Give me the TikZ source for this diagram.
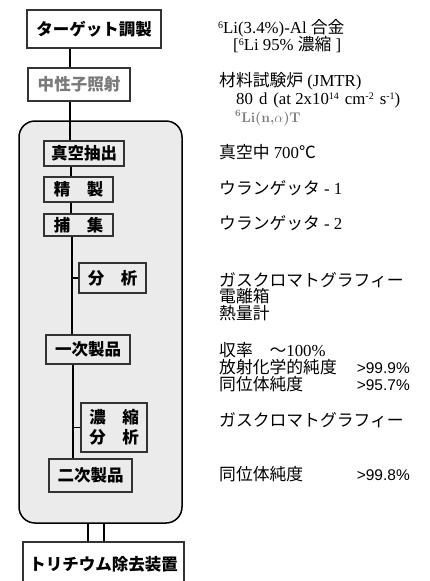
\documentclass[tikz,border=0pt]{standalone}
\usepackage{fontspec}
\setmainfont{Liberation Serif}
\newfontfamily\jp{Noto Sans CJK JP}
\newfontfamily\lsans{Liberation Sans}
\newfontfamily\lmr{Latin Modern Roman}
\newcommand\J[1]{{\jp #1}}
\newcommand\sups[1]{\raisebox{5.5pt}{\fontsize{10}{10}\selectfont #1}}
\definecolor{boxline}{HTML}{333333}
\definecolor{regfill}{HTML}{EBEBEB}
\definecolor{graytext}{HTML}{7A7A7A}
\tikzset{
  box/.style={draw=boxline, line width=1.1pt, inner sep=0pt, align=center,
    font=\jp\bfseries\fontsize{16.5}{20}\selectfont},
  region/.style={draw=black, line width=1.5pt, rounded corners=16pt, fill=regfill, inner sep=0pt},
  conn/.style={draw=black, line width=1.3pt},
  rt/.style={anchor=base west, inner sep=0pt, text height=11pt, text depth=2pt,
    font=\fontsize{16.8}{19}\selectfont},
  val/.style={anchor=base east, inner sep=0pt, text height=11pt, text depth=2pt,
    font=\lsans\fontsize{15.5}{18}\selectfont}
}
\begin{document}
\begin{tikzpicture}[x=1pt,y=-1pt]
\useasboundingbox (0,0) rectangle (430,581);
\fill[white] (0,0) rectangle (430,581);
% region
\node[region, minimum width=163pt, minimum height=402pt] (reg) at (100.5,322) {};
% boxes
\node[box, fill=white, minimum width=134pt, minimum height=38pt] (t1) at (94,29) {ターゲット調製};
\node[box, fill=white, minimum width=102pt, minimum height=33pt, text=graytext] (t2) at (79,84.5) {中性子照射};
\node[box, minimum width=80pt, minimum height=25pt] (b1) at (84,153.5) {真空抽出};
\node[box, minimum width=69pt, minimum height=25pt] (b2) at (78.5,189.5) {精　製};
\node[box, minimum width=69pt, minimum height=22pt] (b3) at (78.5,225) {捕　集};
\node[box, minimum width=67pt, minimum height=30pt] (a1) at (112.5,278) {分　析};
\node[box, minimum width=84pt, minimum height=29pt] (p1) at (88,349.5) {一次製品};
\node[box, minimum width=66pt, minimum height=49pt] (a2) at (114,427.5) {濃　縮\\分　析};
\node[box, minimum width=83pt, minimum height=33pt] (p2) at (90.5,475.5) {二次製品};
\node[box, fill=white, minimum width=161pt, minimum height=44pt] (tr) at (103.5,564) {トリチウム除去装置};
% connector columns
\coordinate (x1) at (70,0);
\coordinate (x2) at (71,0);
\coordinate (x3) at (72,0);
\coordinate (x4) at (73,0);
\coordinate (x5) at (88,0);
\coordinate (x6) at (104,0);
\draw[conn] (t1.south -| x1) -- (t2.north -| x1);
\draw[conn] (t2.south -| x1) -- (b1.north -| x1);
\draw[conn] (b1.south -| x2) -- (b2.north -| x2);
\draw[conn] (b2.south -| x2) -- (b3.north -| x2);
\draw[conn] (b3.south -| x3) -- (p1.north -| x3);
\draw[conn] (x3 |- a1.west) -- (a1.west);
\draw[conn] (p1.south -| x4) -- (p2.north -| x4);
\draw[conn] (x4 |- a2.west) -- (a2.west);
\draw[conn] (reg.south -| x5) -- (tr.north -| x5);
\draw[conn] (reg.south -| x6) -- (tr.north -| x6);
% right texts
\node[rt] (r1) at (218,33.5) {\sups{6}Li(3.4\%)-Al \J{合金}};
\node[rt] (r2) at (233,50.5) {[\sups{6}Li 95\% \J{濃縮} ]};
\node[rt] (r3) at (219,86.5) {\J{材料試験炉} (JMTR)};
\node[rt] (r4) at (236,104.5) {80\hspace{6pt}d\hspace{6pt}(at 2x10\sups{14}\hspace{6pt}cm\sups{-2}\hspace{6pt}s\sups{-1})};
\node[rt, text=graytext, font=\lmr\bfseries\fontsize{14}{16}\selectfont] (r5) at (235,122) {\textsuperscript{6}Li(n,$\alpha$)T};
\node[rt] (r6) at (219,158) {\J{真空中} 700\J{℃}};
\node[rt] (r7) at (219,194) {\J{ウランゲッタ} - 1};
\node[rt] (r8) at (219,229) {\J{ウランゲッタ} - 2};
\node[rt] (r9) at (219,286) {\J{ガスクロマトグラフィー}};
\node[rt] (r10) at (219,302) {\J{電離箱}};
\node[rt] (r11) at (219,319) {\J{熱量計}};
\node[rt] (r12) at (219,356) {\J{収率　〜}100\%};
\node[rt] (r13) at (219,373.5) {\J{放射化学的純度}};
\node[val] (v13) at (410,373.5) {>99.9\%};
\node[rt] (r14) at (219,390.5) {\J{同位体純度}};
\node[val] (v14) at (410,390.5) {>95.7\%};
\node[rt] (r15) at (219,426) {\J{ガスクロマトグラフィー}};
\node[rt] (r16) at (219,480) {\J{同位体純度}};
\node[val] (v16) at (410,480) {>99.8\%};
\end{tikzpicture}
\end{document}
